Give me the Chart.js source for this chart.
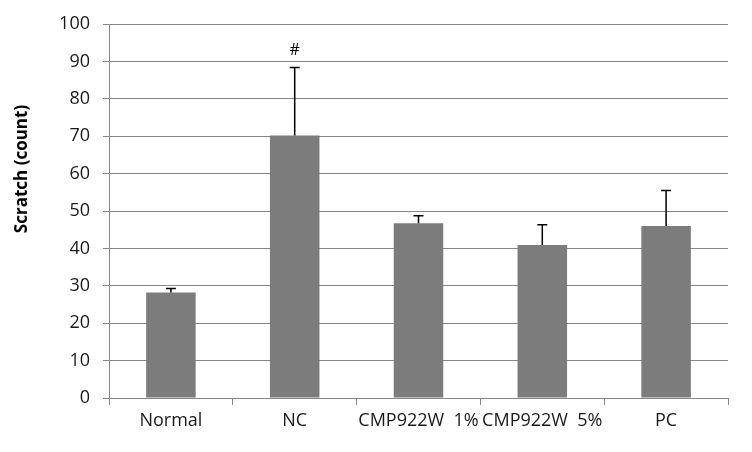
<!DOCTYPE html>
<html>
<head>
<meta charset="utf-8">
<script src="https://cdn.jsdelivr.net/npm/chart.js@4"></script>
<style>
  body { margin: 0; background: #fff; }
  #box { width: 752px; height: 452px; }
</style>
</head>
<body>
<div id="box"><canvas id="graficoScratch"></canvas></div>
<script>
const grupos = ['Normal', 'NC', 'CMP922W  1%', 'CMP922W  5%', 'PC'];
const mediaScratch = [28.2, 70.2, 46.7, 40.9, 46.0];
const erroScratch = [1.1, 18.2, 2.0, 5.4, 9.5];
const marcas = ['', '#', '', '', ''];
const ticksY = [0, 10, 20, 30, 40, 50, 60, 70, 80, 90, 100];

// barras de erro (so para cima) e o simbolo #
const errorBars = {
  id: 'errorBars',
  afterDatasetsDraw(chart) {
    const ctx = chart.ctx;
    const y = chart.scales.y;
    const meta = chart.getDatasetMeta(0);
    ctx.save();
    meta.data.forEach((bar, i) => {
      const top = y.getPixelForValue(mediaScratch[i] + erroScratch[i]);
      const base = y.getPixelForValue(mediaScratch[i]);
      ctx.strokeStyle = '#000';
      ctx.lineWidth = 1.5;
      ctx.beginPath();
      ctx.moveTo(bar.x, base);
      ctx.lineTo(bar.x, top);
      ctx.moveTo(bar.x - 5, top);
      ctx.lineTo(bar.x + 5, top);
      ctx.stroke();
      if (marcas[i]) {
        ctx.fillStyle = '#000';
        ctx.font = '16px "Open Sans"';
        ctx.textAlign = 'center';
        ctx.textBaseline = 'middle';
        ctx.fillText(marcas[i], bar.x, top - 17);
      }
    });
    // titulo do eixo y
    ctx.translate(22, 169);
    ctx.rotate(-Math.PI / 2);
    ctx.fillStyle = '#000';
    ctx.font = 'bold 17px "Open Sans"';
    ctx.textAlign = 'center';
    ctx.textBaseline = 'middle';
    ctx.fillText('Scratch (count)', 0, 0);
    ctx.restore();
  }
};

const dataScratch = {
  labels: grupos,
  datasets: [{
    label: 'Scratch (count)',
    backgroundColor: '#7c7c7c',
    borderWidth: 0,
    data: mediaScratch,
    categoryPercentage: 1,
    barPercentage: 0.4
  }]
};

const configScratch = {
  type: 'bar',
  data: dataScratch,
  plugins: [errorBars],
  options: {
    responsive: true,
    maintainAspectRatio: false,
    animation: false,
    layout: { padding: { top: 24, right: 24, left: 0, bottom: 0 } },
    plugins: {
      legend: { display: false },
      tooltip: { enabled: false }
    },
    scales: {
      x: {
        grid: { drawOnChartArea: false, drawTicks: true, tickLength: 7, color: '#868686', offset: true },
        border: { color: '#868686' },
        ticks: { color: '#1a1a1a', font: { family: 'Open Sans', size: 18 }, padding: 5, maxRotation: 0, autoSkip: false },
        afterFit(scale) { scale.height = 54; }
      },
      y: {
        min: 0,
        max: 100,
        afterBuildTicks(scale) { scale.ticks = ticksY.map(v => ({ value: v })); },
        grid: { color: '#868686', tickLength: 6 },
        border: { color: '#868686' },
        ticks: { color: '#1a1a1a', font: { family: 'Open Sans', size: 18 }, padding: 13 },
        afterFit(scale) { scale.width = 109; }
      }
    }
  }
};

const myChart = new Chart(document.getElementById('graficoScratch'), configScratch);
</script>
</body>
</html>
